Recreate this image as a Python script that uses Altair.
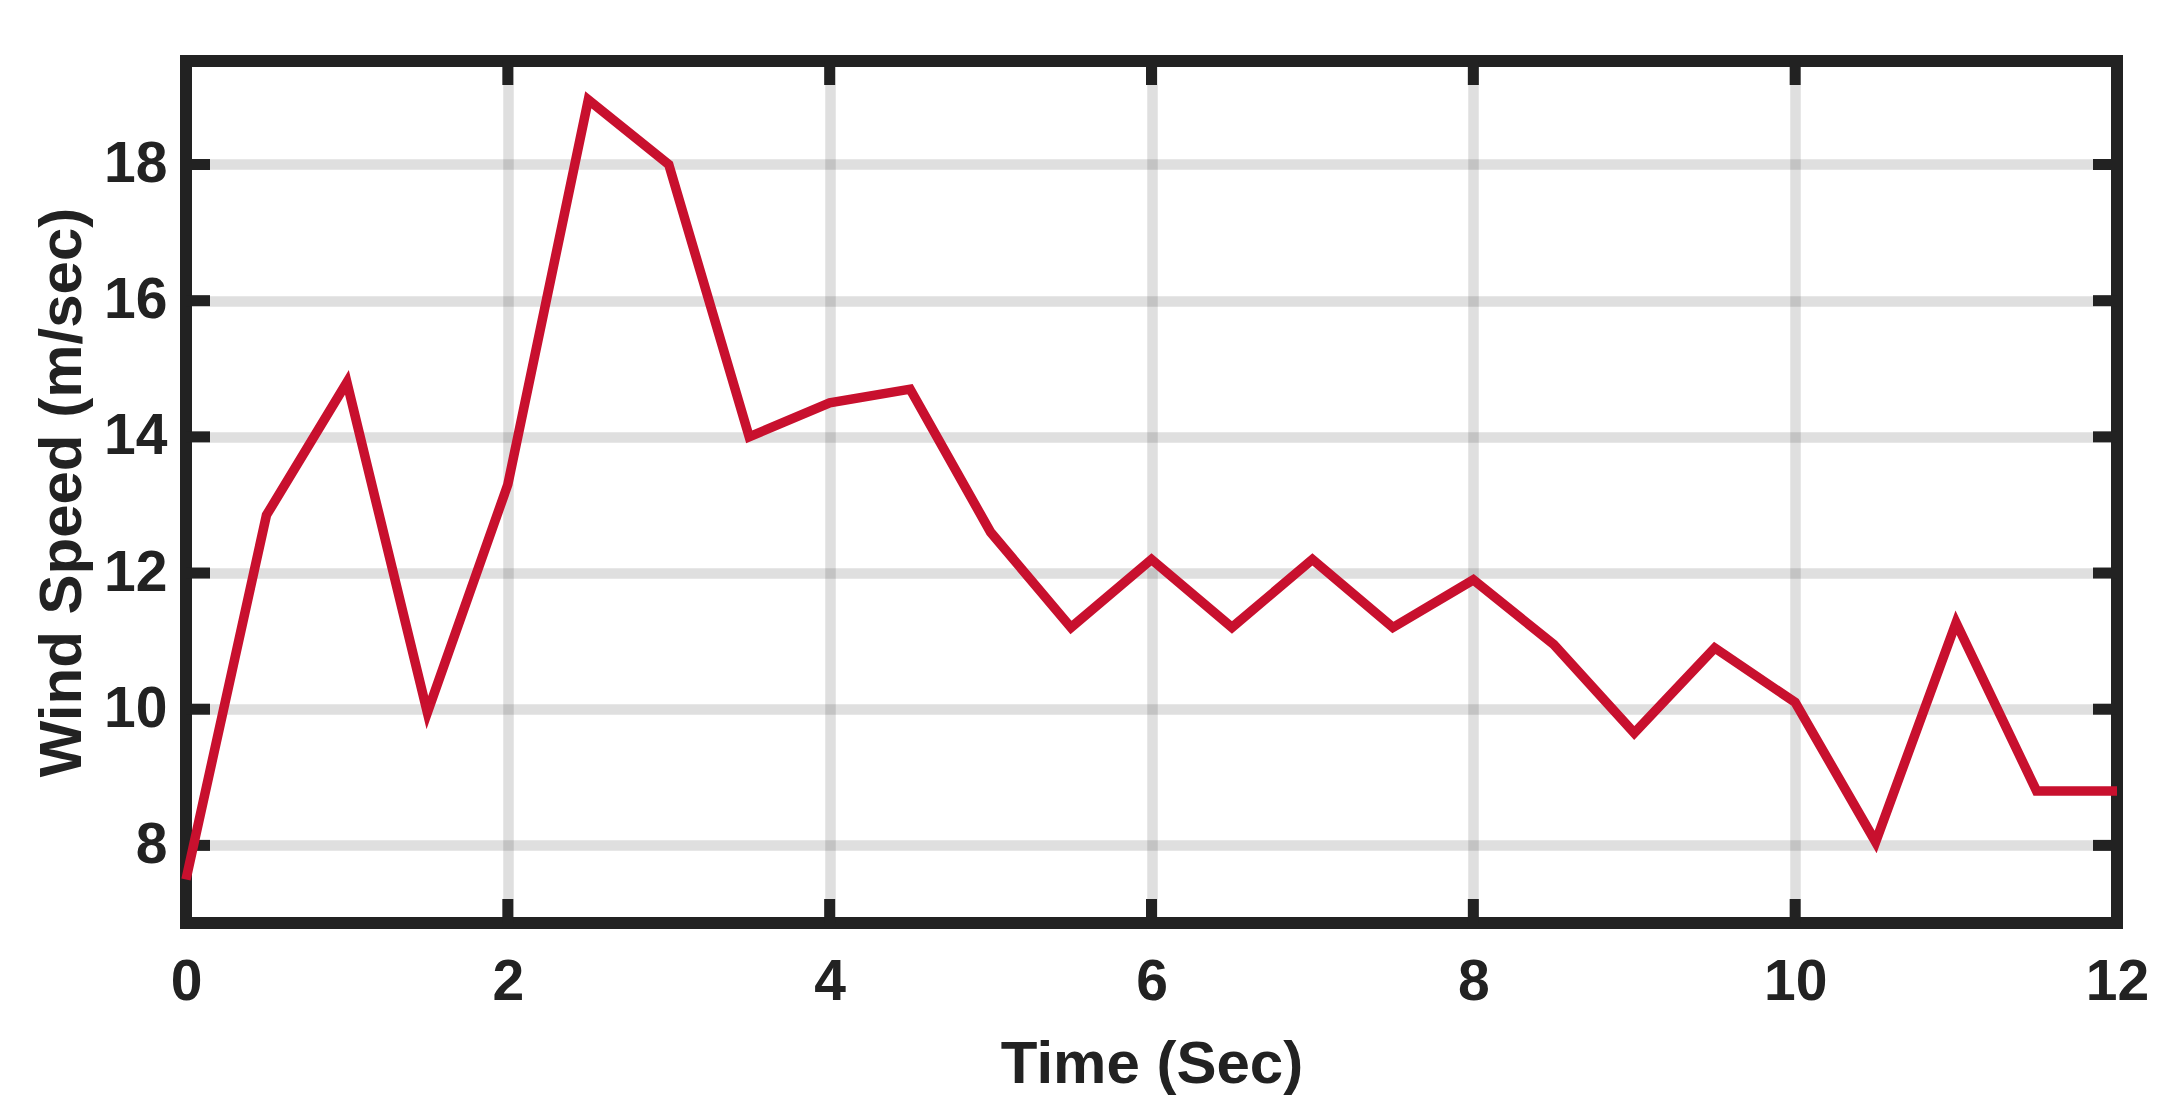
import altair as alt
import pandas as pd

# ---- data ----
time_sec = [0, 0.5, 1, 1.5, 2, 2.5, 3, 3.5, 4, 4.5, 5, 5.5, 6, 6.5, 7, 7.5,
            8, 8.5, 9, 9.5, 10, 10.5, 11, 11.5, 12]
wind_speed = [7.5, 12.85, 14.8, 9.95, 13.3, 18.95, 18.0, 14.0, 14.5, 14.7, 12.6,
              11.2, 12.2, 11.2, 12.2, 11.2, 11.9, 10.95, 9.65, 10.9, 10.1, 8.05,
              11.27, 8.8, 8.8]
x_ticks = [0, 2, 4, 6, 8, 10, 12]
y_ticks = [8, 10, 12, 14, 16, 18]
x_domain = [0, 12]
y_domain = [6.86, 19.52]

W, H = 1931, 862
FONT = "Liberation Sans"
DARK = "#222222"
TICK_LEN = 24

df = pd.DataFrame({"t": time_sec, "v": wind_speed})
xt = pd.DataFrame({"t": x_ticks})
yt = pd.DataFrame({"v": y_ticks})
frame = pd.DataFrame({
    "t": [x_domain[0], x_domain[1], x_domain[0], x_domain[0]],
    "t2": [x_domain[0], x_domain[1], x_domain[1], x_domain[1]],
    "v": [y_domain[0], y_domain[0], y_domain[0], y_domain[1]],
    "v2": [y_domain[1], y_domain[1], y_domain[0], y_domain[1]],
})

xs = alt.Scale(domain=x_domain, nice=False, zero=False)
ys = alt.Scale(domain=y_domain, nice=False, zero=False)

x_axis = alt.Axis(
    values=x_ticks, format="d", title="Time (Sec)", orient="bottom",
    domain=False, ticks=False, tickSize=0, labelFlush=False, labelOverlap=False,
    labelFont=FONT, labelFontWeight="bold", labelFontSize=57, labelColor=DARK,
    labelPadding=31,
    grid=True, gridColor="#262626", gridOpacity=0.15, gridWidth=10.5,
    titleFont=FONT, titleFontWeight="bold", titleFontSize=60, titleColor=DARK,
    titleY=159, titleBaseline="alphabetic",
)
y_axis = alt.Axis(
    values=y_ticks, format="d", title="Wind Speed (m/sec)", orient="left",
    domain=False, ticks=False, tickSize=0, labelFlush=False, labelOverlap=False,
    labelFont=FONT, labelFontWeight="bold", labelFontSize=57, labelColor=DARK,
    labelPadding=19,
    grid=True, gridColor="#262626", gridOpacity=0.15, gridWidth=10.5,
    titleFont=FONT, titleFontWeight="bold", titleFontSize=60, titleColor=DARK,
    titleX=-106, titleBaseline="alphabetic", titleAngle=270,
)

X = alt.X("t:Q", scale=xs, axis=x_axis)
Y = alt.Y("v:Q", scale=ys, axis=y_axis)

frame_layer = alt.Chart(frame).mark_rule(color=DARK, strokeWidth=12, strokeCap="square").encode(
    x=X, x2="t2:Q", y=Y, y2="v2:Q",
)

tick_bottom = alt.Chart(xt).mark_rule(color=DARK, strokeWidth=11).encode(
    x=X, y=alt.value(H), y2=alt.value(H - TICK_LEN))
tick_top = alt.Chart(xt).mark_rule(color=DARK, strokeWidth=11).encode(
    x=X, y=alt.value(0), y2=alt.value(TICK_LEN))
tick_left = alt.Chart(yt).mark_rule(color=DARK, strokeWidth=11).encode(
    y=Y, x=alt.value(0), x2=alt.value(TICK_LEN))
tick_right = alt.Chart(yt).mark_rule(color=DARK, strokeWidth=11).encode(
    y=Y, x=alt.value(W - TICK_LEN), x2=alt.value(W))

line = alt.Chart(df).mark_line(color="#C8102E", strokeWidth=9.5, strokeJoin="miter").encode(
    x=X, y=Y,
)

chart = alt.layer(frame_layer, tick_bottom, tick_top, tick_left, tick_right, line).properties(
    width=W, height=H,
    autosize=alt.AutoSizeParams(type="none"),
    padding={"left": 178, "top": 53, "right": 40, "bottom": 190},
    background="white",
).configure_view(strokeWidth=0)

chart.save("out.html", embed_options={"renderer": "svg", "actions": False})
